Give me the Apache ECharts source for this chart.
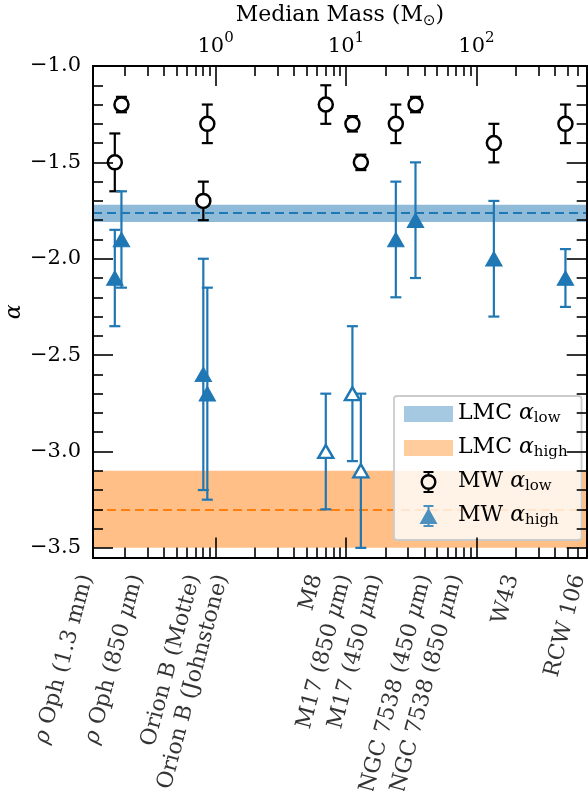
<!DOCTYPE html>
<html><head><meta charset="utf-8">
<script src="https://cdn.jsdelivr.net/npm/echarts@6/dist/echarts.min.js"></script>
<style>html,body{margin:0;padding:0;background:#fff}#c{width:588px;height:791px}</style>
</head><body><div id="c"></div>
<script>
// ---------------- data ----------------
const regionNames = ['ρ Oph (1.3 mm)', 'ρ Oph (850 μm)', 'Orion B (Motte)', 'Orion B (Johnstone)', 'M8',
  'M17 (850 μm)', 'M17 (450 μm)', 'NGC 7538 (450 μm)', 'NGC 7538 (850 μm)', 'W43', 'RCW 106'];
const medianMass = [0.169, 0.19, 0.806, 0.865, 7.0, 11.2, 13.0, 24.1, 34.1, 136, 481];
const labelMass = [0.104, 0.252, 0.69, 1.13, 5.94, 9.93, 17.2, 40.8, 70.5, 190, 616];
const alphaLow = [-1.5, -1.2, -1.7, -1.3, -1.2, -1.3, -1.5, -1.3, -1.2, -1.4, -1.3];
const alphaLowErr = [0.15, 0.04, 0.1, 0.1, 0.1, 0.04, 0.04, 0.1, 0.04, 0.1, 0.1];
const alphaHigh = [-2.1, -1.9, -2.6, -2.7, -3.0, -2.7, -3.1, -1.9, -1.8, -2.0, -2.1];
const alphaHighErr = [0.25, 0.25, 0.6, 0.55, 0.3, 0.35, 0.4, 0.3, 0.3, 0.3, 0.15];
const alphaHighOpen = [false, false, false, false, true, true, true, false, false, false, false];
const lmcLowValue = -1.76;
const lmcLowBand = [-1.81, -1.72];
const lmcHighValue = -3.3;
const lmcHighBand = [-3.5, -3.1];
const yMajorTicks = [-3.5, -3.0, -2.5, -2.0, -1.5, -1.0];
const yMinorTicks = [];
for (let k = -35; k <= -10; k++) if (k % 5 !== 0) yMinorTicks.push(k / 10);
const xMajorTicks = [1, 10, 100];
const xMinorTicks = [];
for (let d = -1; d <= 2; d++) for (let m = 2; m <= 9; m++) {
  const v = m * Math.pow(10, d); if (v >= 0.115 && v <= 700) xMinorTicks.push(+v.toPrecision(3));
}
const X_MIN = 0.115, X_MAX = 700, Y_MIN = -3.55, Y_MAX = -1.0;

// ---------------- style ----------------
const FONT = 'DejaVu Serif';
const BLUE = '#1f77b4', ORANGE = '#ff7f0e';
const axisLineStyle = {color: '#000', width: 2};
const tickStyle = {color: '#000', width: 1.6};

function xAx(pos, ticks, len, extra) {
  return Object.assign({
    type: 'log', logBase: 10, min: X_MIN, max: X_MAX, position: pos, gridIndex: 0,
    axisLine: {show: true, onZero: false, lineStyle: axisLineStyle},
    axisTick: {show: true, inside: true, length: len, customValues: ticks, lineStyle: tickStyle},
    axisLabel: {show: false}, splitLine: {show: false}, minorTick: {show: false}, z: 10
  }, extra || {});
}
function yAx(pos, ticks, len, extra) {
  return Object.assign({
    type: 'value', min: Y_MIN, max: Y_MAX, position: pos, gridIndex: 0,
    axisLine: {show: true, onZero: false, lineStyle: axisLineStyle},
    axisTick: {show: true, inside: true, length: len, customValues: ticks, lineStyle: tickStyle},
    axisLabel: {show: false}, splitLine: {show: false}, z: 10
  }, extra || {});
}

function errorbars(name, vals, errs, color) {
  return {
    type: 'custom', name: name, xAxisIndex: 0, yAxisIndex: 0, z: 3, silent: true, clip: false,
    data: medianMass.map((m, i) => [m, vals[i], errs[i]]),
    encode: {x: 0, y: 1},
    renderItem: function (params, api) {
      const x = api.value(0), y = api.value(1), e = api.value(2);
      const t = api.coord([x, y + e]), b = api.coord([x, y - e]);
      const cw = 5.5, st = {stroke: color, lineWidth: 2.2};
      return {type: 'group', children: [
        {type: 'line', shape: {x1: t[0], y1: t[1], x2: b[0], y2: b[1]}, style: st},
        {type: 'line', shape: {x1: t[0] - cw, y1: t[1], x2: t[0] + cw, y2: t[1]}, style: st},
        {type: 'line', shape: {x1: b[0] - cw, y1: b[1], x2: b[0] + cw, y2: b[1]}, style: st}
      ]};
    }
  };
}

function band(name, valueY, bandY, fill, lineColor) {
  return {
    type: 'scatter', name: name, xAxisIndex: 0, yAxisIndex: 0, data: [], z: 1, silent: true,
    itemStyle: {color: fill},
    markArea: {silent: true, z: 1, itemStyle: {color: fill}, label: {show: false},
      data: [[{yAxis: bandY[1]}, {yAxis: bandY[0]}]]},
    markLine: {silent: true, z: 2, symbol: ['none', 'none'], label: {show: false},
      lineStyle: {color: lineColor, width: 2, type: [9, 5]},
      data: [{yAxis: valueY}]}
  };
}

const richName = s => s.replace(/([ρμ])/g, '{i|$1}');
const ICON_RECT = 'path://M0 0H49V16H0Z';
const ICON_LOW = 'path://M8 3A8 8 0 1 1 8 19A8 8 0 1 1 8 3Z M8 5.4A5.6 5.6 0 1 0 8 16.6A5.6 5.6 0 1 0 8 5.4Z M3 0H13V2H9V3H7V2H3Z M3 22H13V20H9V19H7V20H3Z';
const ICON_HIGH = 'path://M9 3L18 19L0 19Z M4 0H14V2H10V20H14V22H4V20H8V2H4Z';
const legendText = {
  'LMC α_low': '{m|LMC }{a|α}{s|low}',
  'LMC α_high': '{m|LMC }{a|α}{s|high}',
  'MW α_low': '{m|MW }{a|α}{s|low}',
  'MW α_high': '{m|MW }{a|α}{s|high}'
};

const option = {
  animation: false,
  backgroundColor: '#fff',
  textStyle: {fontFamily: FONT},
  grid: {left: 93, right: 1.3, top: 66, bottom: 233.5, containLabel: false, outerBoundsMode: 'none'},
  xAxis: [
    xAx('bottom', xMajorTicks, 20),
    xAx('bottom', xMinorTicks, 10),
    xAx('top', xMajorTicks, 20, {
      axisLabel: {show: true, customValues: xMajorTicks, margin: 9, color: '#000',
        formatter: v => '{b|10}{p|' + Math.round(Math.log10(v)) + '}',
        rich: {b: {fontFamily: FONT, fontSize: 21, height: 21, padding: [5, 0, 0, 0], verticalAlign: 'bottom', color: '#000'},
               p: {fontFamily: FONT, fontSize: 15, height: 15, verticalAlign: 'top', color: '#000'}}},
      name: '{t|Median Mass (M}{s|⊙}{t|)}', nameLocation: 'middle', nameGap: 37, nameMoveOverlap: false,
      nameTextStyle: {rich: {t: {fontFamily: FONT, fontSize: 22, height: 22, padding: [0, 0, 3, 0], verticalAlign: 'top', color: '#000'},
                             s: {fontFamily: 'DejaVu Sans', fontSize: 15, height: 15, verticalAlign: 'bottom', color: '#000'}}}
    }),
    xAx('top', xMinorTicks, 10)
  ],
  yAxis: [
    yAx('left', yMajorTicks, 20, {
      axisLabel: {show: true, customValues: yMajorTicks, margin: 12, color: '#000', fontFamily: FONT, fontSize: 21,
        formatter: v => (v < 0 ? '\u2212' : '') + Math.abs(v).toFixed(1)},
      name: 'α', nameLocation: 'middle', nameGap: 68, nameRotate: 90, nameMoveOverlap: false,
      nameTextStyle: {fontFamily: FONT, fontSize: 22, fontStyle: 'italic', color: '#000'}
    }),
    yAx('left', yMinorTicks, 10),
    yAx('right', yMajorTicks, 20),
    yAx('right', yMinorTicks, 10)
  ],
  legend: {
    orient: 'vertical', left: 394, top: 396, padding: [6, 14, 12, 10], itemGap: 10,
    itemWidth: 49, itemHeight: 22, selectedMode: false,
    backgroundColor: 'rgba(255,255,255,0.8)', borderColor: '#cccccc', borderWidth: 1.8, borderRadius: 3,
    data: [
      {name: 'LMC α_low', icon: ICON_RECT, itemStyle: {color: '#8fbbd9', borderWidth: 0}},
      {name: 'LMC α_high', icon: ICON_RECT, itemStyle: {color: '#ffbf86', borderWidth: 0}},
      {name: 'MW α_low', icon: ICON_LOW, itemStyle: {color: '#000', borderWidth: 0}},
      {name: 'MW α_high', icon: ICON_HIGH, itemStyle: {color: BLUE, borderWidth: 0}}
    ],
    formatter: name => legendText[name],
    textStyle: {color: '#000', rich: {
      m: {fontFamily: FONT, fontSize: 22, height: 22, padding: [0, 0, 2, 0], verticalAlign: 'top', color: '#000'},
      a: {fontFamily: FONT, fontSize: 22, height: 22, padding: [0, 0, 2, 0], verticalAlign: 'top', fontStyle: 'italic', color: '#000'},
      s: {fontFamily: FONT, fontSize: 15, height: 15, verticalAlign: 'bottom', color: '#000'}
    }}
  },
  series: [
    band('LMC α_low', lmcLowValue, lmcLowBand, 'rgba(31,119,180,0.5)', BLUE),
    band('LMC α_high', lmcHighValue, lmcHighBand, 'rgba(255,127,14,0.5)', ORANGE),
    errorbars('errLow', alphaLow, alphaLowErr, '#000'),
    errorbars('errHigh', alphaHigh, alphaHighErr, BLUE),
    {
      type: 'scatter', name: 'MW α_low', xAxisIndex: 0, yAxisIndex: 0, z: 4, silent: true,
      symbol: 'circle', symbolSize: 14,
      itemStyle: {color: '#fff', borderColor: '#000', borderWidth: 2.5, opacity: 1},
      data: medianMass.map((m, i) => [m, alphaLow[i]])
    },
    {
      type: 'scatter', name: 'MW α_high', xAxisIndex: 0, yAxisIndex: 0, z: 4, silent: true,
      symbol: 'triangle',
      data: medianMass.map((m, i) => alphaHighOpen[i]
        ? {value: [m, alphaHigh[i]], symbolSize: [15, 13], itemStyle: {color: '#fff', borderColor: BLUE, borderWidth: 2.4, opacity: 1}}
        : {value: [m, alphaHigh[i]], symbolSize: [16.5, 14.5], itemStyle: {color: BLUE, borderColor: BLUE, borderWidth: 1, opacity: 1}})
    },
    {
      type: 'scatter', name: 'regionLabels', xAxisIndex: 0, yAxisIndex: 0, z: 5, silent: true, clip: false,
      symbolSize: 1, itemStyle: {color: 'rgba(0,0,0,0)'},
      data: labelMass.map((m, i) => ({value: [m, Y_MIN], name: regionNames[i]})),
      label: {show: true, position: [0, 18], align: 'right', verticalAlign: 'middle', rotate: 75,
        fontFamily: FONT, fontSize: 22, color: '#000',
        formatter: p => richName(p.name),
        rich: {i: {fontFamily: FONT, fontSize: 22, fontStyle: 'italic', color: '#000'}}}
    }
  ]
};
const chart = echarts.init(document.getElementById('c'), null, {renderer: 'canvas'});
chart.setOption(option);
</script></body></html>
